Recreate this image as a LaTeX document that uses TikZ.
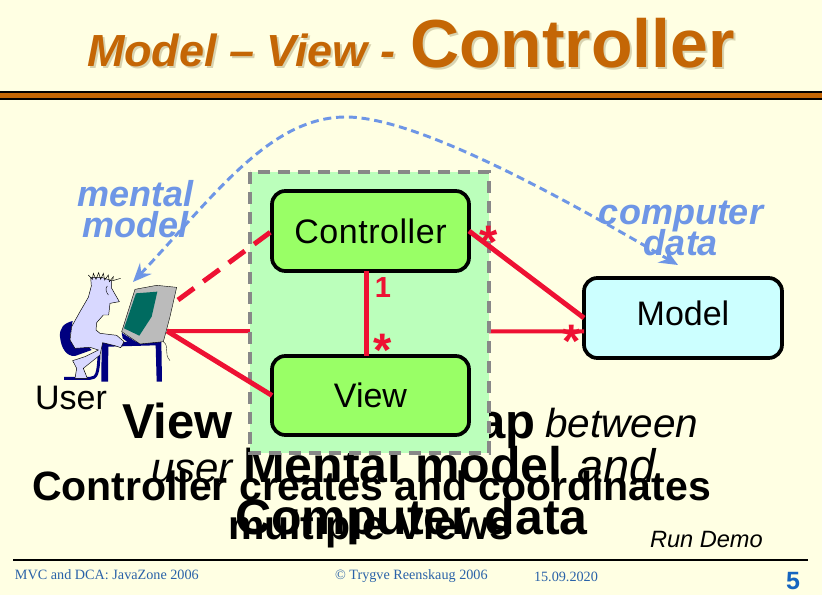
\documentclass[tikz,border=0pt]{standalone}
\usepackage{fontspec}
\setmainfont{Liberation Sans}
\newfontfamily\serifft{Liberation Serif}
\usetikzlibrary{arrows.meta}
\definecolor{bgc}{HTML}{FFFFE3}
\definecolor{titlec}{HTML}{C46605}
\definecolor{shadowc}{HTML}{D8D3B0}
\definecolor{panelc}{HTML}{BBFFBB}
\definecolor{dashc}{HTML}{888888}
\definecolor{greenc}{HTML}{99FF66}
\definecolor{cyanc}{HTML}{CCFFFF}
\definecolor{redc}{HTML}{EE1133}
\definecolor{bluec}{HTML}{6E96E6}
\definecolor{footc}{HTML}{2A62A8}
\definecolor{numc}{HTML}{1565C0}
\definecolor{navyc}{HTML}{000080}
\definecolor{lavc}{HTML}{D8D8FF}
\definecolor{monc}{HTML}{BBBBBB}
\definecolor{scrc}{HTML}{006B60}
\newcommand{\pxs}[1]{\fontsize{\dimexpr#1pt*3/4\relax}{\dimexpr#1pt\relax}\selectfont}
\tikzset{
  txt/.style={inner sep=0pt,outer sep=0pt,anchor=base},
  txtw/.style={inner sep=0pt,outer sep=0pt,anchor=base west},
  box/.style={draw=black,line width=2.8pt,rounded corners=10pt,inner sep=0pt,outer sep=0pt,
     text depth=0pt,font=\pxs{34}},
  assoc/.style={draw=redc,line width=3.7pt},
  assocthin/.style={draw=redc,line width=3pt},
  mult/.style={txt,text=redc,font=\bfseries\pxs{47}},
  blue label/.style={txt,text=bluec,font=\bfseries\itshape\pxs{36}},
  titlefont/.style={font=\bfseries\itshape\pxs{45}},
  bigfont/.style={font=\bfseries\pxs{68}},
  foot/.style={txtw,text=footc,font=\serifft\pxs{14.2}},
}
\begin{document}
\begin{tikzpicture}[x=0.75pt,y=-0.75pt]
\path[use as bounding box,fill=bgc] (0,0) rectangle (822,595);

% title
\node[txtw,text=shadowc,titlefont] (titleAs) at (89,69) {Model – View -};
\node[txtw,text=shadowc,bigfont] (titleBs) at (412,70) {Controller};
\node[txtw,text=titlec,titlefont] (titleA) at (87,67) {Model – View -};
\node[txtw,text=titlec,bigfont] (titleB) at (410,68) {Controller};
\draw[black,line width=1.3pt,fill=titlec] (-2,92) rectangle (824,99);

% body text, partly covered by the panel
\node[txtw,font=\bfseries\pxs{49}] (t1a) at (122,439) {View};
\node[txtw,font=\bfseries\pxs{49}] (t1b) at (478,439) {ap};
\node[txtw,font=\itshape\pxs{40.5}] (t1c) at (545,438) {between};
\node[txtw,font=\itshape\pxs{42}] (t2a) at (151,483) {user};
\node[txtw,font=\bfseries\pxs{50}] (t2b) at (243,483) {Mental model};
\node[txtw,font=\itshape\pxs{47}] (t2c) at (577,483) {and};
\node[txtw,font=\bfseries\pxs{41}] (t3) at (32,500) {Controller creates and coordinates};
\node[txtw,font=\bfseries\pxs{50}] (t4) at (235,534) {Computer data};
\node[txtw,font=\bfseries\pxs{41}] (t5) at (228,539) {multiple Views};
\node[txtw,font=\itshape\pxs{23.6}] (demo) at (650,547) {Run Demo};

% ports
\coordinate (monE) at (167,331);
\coordinate (monN) at (178,300);
\coordinate (mentalEnd) at (133,282);
\coordinate (top) at (346,117);
\coordinate (dataEnd) at (678,265);

% model first, the direct line runs behind the panel
\node[box,fill=cyanc,minimum width=148.5pt,minimum height=60pt,text depth=7.5pt] (model) at (683,318) {Model};
\draw[assocthin] (monE) -- ([yshift=-10pt]model.west);

% panel
\draw[draw=dashc,fill=panelc,line width=2.6pt,dash pattern=on 9pt off 6pt] (250,172) rectangle (489,453);

% classes
\node[box,fill=greenc,minimum width=147.75pt,minimum height=60pt] (ctrl) at (370.5,231) {\addfontfeature{LetterSpace=1.6}Controller};
\node[box,fill=greenc,minimum width=147.75pt,minimum height=59.25pt] (view) at (370.5,395.5) {View};

% associations
\draw[assoc] ([xshift=-3pt]ctrl.south) -- ([xshift=-3pt]view.north);
\draw[assoc] (ctrl.east) -- (model.west);
\draw[assoc] (monE) -- (view.west);
\draw[assoc,dash pattern=on 15pt off 8.6pt] (monN) -- (ctrl.west);

\node[mult] (m1) at (489,259) {*};
\node[txt,text=redc,font=\bfseries\pxs{29}] (m2) at (383,298) {1};
\node[mult] (m3) at (383,367) {*};
\node[mult] (m4) at (572,358) {*};

% user figure
\begin{scope}[shift={(0,160)},x=0.25pt,y=-0.25pt]
  % chair
  \fill[navyc] (218,483) .. controls (190,490) and (178,505) .. (180,530)
     .. controls (183,565) and (200,590) .. (225,588) -- (275,570) -- (262,558)
     -- (225,565) -- (210,530) -- cycle;
  \draw[navyc,line width=2.2pt] (192,655) -- (270,655) .. controls (290,655) and (295,640) .. (297,585);
  % desk
  \fill[navyc] (305,548) -- (484,543) -- (486,665) -- (470,665) -- (467,556) -- (325,560) -- (324,665) -- (304,665) -- cycle;
  % monitor
  \draw[black,line width=0.3pt,fill=monc] (405,388) -- (470,376) -- (530,382) -- (510,470) -- (490,545) -- (420,552) -- (365,515) -- cycle;
  \fill[scrc] (408,400) -- (472,395) -- (455,470) -- (418,527) -- (372,505) -- cycle;
  \fill[navyc] (365,518) -- (418,552) -- (395,556) -- (368,535) -- cycle;
  \draw[black,line width=0.25pt] (490,545) .. controls (510,560) and (490,580) .. (510,602);
  % person
  \draw[black,line width=0.35pt,fill=lavc] (272,352) -- (274,378) -- (265,412) -- (240,455) -- (215,500)
     -- (210,540) -- (225,565) -- (270,562) -- (295,570) -- (255,590) -- (218,602)
     -- (230,625) -- (225,655) -- (262,655) -- (250,625) -- (300,585) -- (308,548)
     -- (345,557) -- (362,563) -- (372,545) -- (350,526) -- (300,520) -- (288,510)
     -- (290,488) -- (310,465) -- (326,465) -- (330,430) -- (358,425) -- (335,385)
     -- (335,362) -- (305,352) -- cycle;
  \draw[black,line width=0.3pt] (322,378) .. controls (315,385) and (318,395) .. (325,405);
  % hair
  \draw[black,line width=0.35pt] (265,345) -- (277,358) -- (280,340) -- (288,358) -- (296,338) -- (302,358)
     -- (310,340) -- (314,360) -- (325,345) -- (328,365) -- (340,350) -- (338,362) -- (362,355);
\end{scope}

\node[txt,font=\pxs{34}] (user) at (71,410) {User};

% blue labels and the mental mapping curve
\draw[bluec,line width=2.2pt,dash pattern=on 6pt off 3.6pt,{Stealth[length=14pt,width=12pt,inset=5pt]}-{Stealth[length=14pt,width=12pt,inset=5pt]}]
   (mentalEnd) .. controls (215,195) and (270,117) .. (top)
   .. controls (420,117) and (575,205) .. (dataEnd);
\node[blue label] (mm1) at (135.5,207) {mental};
\node[blue label] (mm2) at (135.5,238) {model};
\node[blue label] (cd1) at (681,225) {computer};
\node[blue label] (cd2) at (681,256) {data};

% footer
\draw[black,line width=1.5pt] (13,560) -- (808,560);
\node[foot] (f1) at (15,579) {MVC and DCA:  JavaZone 2006};
\node[foot] (f2) at (335,579) {© Trygve Reenskaug 2006};
\node[foot] (f3) at (534,581) {15.09.2020};
\node[txt,text=numc,font=\bfseries\pxs{25}] (f4) at (793,589) {5};
\end{tikzpicture}
\end{document}
